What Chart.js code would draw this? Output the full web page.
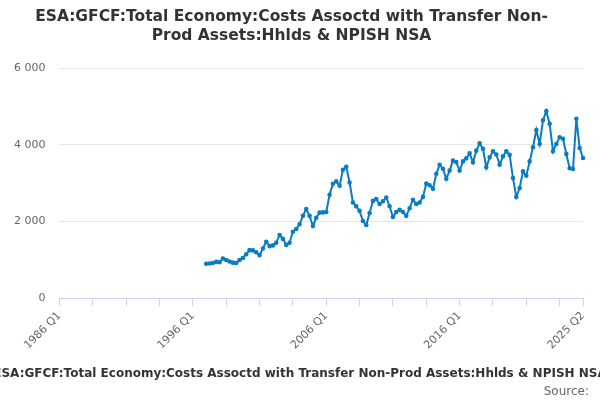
<!DOCTYPE html>
<html><head><meta charset="utf-8">
<script src="https://cdn.jsdelivr.net/npm/chart.js@4.4.0/dist/chart.umd.min.js"></script>
<style>html,body{margin:0;padding:0;background:#fff}#w{width:600px;height:400px}</style>
</head><body><div id="w"><canvas id="c"></canvas></div>
<script>
const titleText = ['ESA:GFCF:Total Economy:Costs Assoctd with Transfer Non-', 'Prod Assets:Hhlds & NPISH NSA'];
const bottomText = 'ESA:GFCF:Total Economy:Costs Assoctd with Transfer Non-Prod Assets:Hhlds & NPISH NSA';
const sourceText = 'Source:';
const firstYear = 1986, lastYear = 2025, lastQuarter = 2;
const dataStartIndex = 44; // 1997 Q1
const values = [900,910,920,950,940,1040,1000,960,930,920,1000,1050,1150,1257,1250,1200,1126,1300,1475,1360,
1380,1450,1650,1550,1390,1450,1737,1808,1930,2150,2330,2150,1886,2100,2235,2240,2250,2700,2985,3050,
2935,3350,3430,3020,2500,2400,2280,2015,1910,2225,2540,2590,2460,2530,2630,2400,2120,2250,2305,2250,
2150,2350,2570,2460,2500,2645,2995,2950,2855,3245,3480,3380,3115,3330,3590,3550,3330,3570,3650,3780,
3545,3850,4040,3900,3415,3675,3835,3750,3485,3700,3835,3740,3135,2645,2875,3310,3195,3570,3940,4390,
4025,4640,4880,4550,3835,4025,4200,4160,3765,3390,3370,4680,3920,3660];
const categories = [];
for (let y = firstYear; y <= lastYear; y++) for (let q = 1; q <= 4; q++) {
  if (y === lastYear && q > lastQuarter) break;
  categories.push(y + ' Q' + q);
}
const series = categories.map((c, i) => (i >= dataStartIndex && i - dataStartIndex < values.length) ? values[i - dataStartIndex] : null);
const fmt = v => String(v).replace(/\B(?=(\d{3})+(?!\d))/g, ' ');
const bottomTexts = {
  id: 'bottomTexts',
  afterDraw(chart) {
    const ctx = chart.ctx;
    ctx.save();
    ctx.fillStyle = '#333';
    ctx.font = 'bold 12px "DejaVu Sans"';
    ctx.textAlign = 'center';
    ctx.textBaseline = 'alphabetic';
    ctx.fillText(bottomText, 300, 377);
    ctx.font = '12px "DejaVu Sans"';
    ctx.fillStyle = '#666';
    ctx.textAlign = 'right';
    ctx.fillText(sourceText, 589, 395);
    ctx.restore();
  }
};
new Chart(document.getElementById('c'), {
  type: 'line',
  data: { labels: categories, datasets: [{ data: series, borderColor: '#0a7cc4', backgroundColor: '#0a7cc4', borderWidth: 2, pointRadius: 1.3, pointHoverRadius: 3, tension: 0, spanGaps: false }] },
  options: {
    responsive: true, maintainAspectRatio: false, animation: false,
    layout: { padding: { left: 0, right: 17, top: 0, bottom: 45 } },
    plugins: {
      legend: { display: false }, tooltip: { enabled: false },
      title: { display: true, text: titleText, color: '#333', font: { family: 'DejaVu Sans', size: 15.5, weight: 'bold' }, padding: { top: 8, bottom: 23 }, lineHeight: 1.3 }
    },
    scales: {
      x: {
        grid: { drawOnChartArea: false, drawTicks: true, tickLength: 8, color: '#ccd6eb' },
        border: { color: '#ccd6eb' },
        ticks: {
          autoSkip: false, maxRotation: 45, minRotation: 45, color: '#666', font: { family: 'DejaVu Sans', size: 11 },
          callback: function(v, i) { const last = categories.length - 1; if (i % 40 === 0 || i === last) return categories[i]; if (i % 10 === 0) return ''; return null; }
        }
      },
      y: {
        min: 0, max: 6000,
        ticks: { stepSize: 2000, color: '#666', font: { family: 'DejaVu Sans', size: 11 }, padding: 14, callback: v => fmt(v) },
        grid: { color: '#e6e6e6', drawTicks: false },
        border: { display: false }
      }
    }
  },
  plugins: [bottomTexts]
});
</script></body></html>
